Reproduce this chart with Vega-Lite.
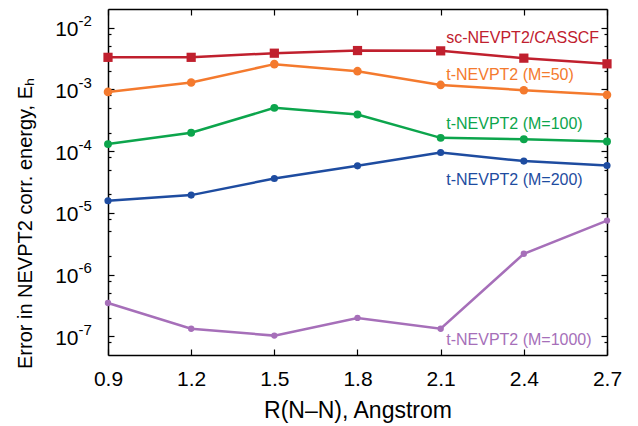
{
  "$schema": "https://vega.github.io/schema/vega-lite/v6.json",
  "width": 499,
  "height": 346,
  "autosize": {"type": "none"},
  "padding": {"left": 108, "top": 9, "right": 31, "bottom": 71},
  "background": "white",
  "config": {
    "view": {"stroke": null},
    "font": "Liberation Sans",
    "axis": {"grid": false, "domainColor": "#000", "tickColor": "#000", "labelColor": "#000", "titleColor": "#000", "labelFont": "Liberation Sans", "titleFont": "Liberation Sans", "titleFontWeight": "normal", "domainWidth": 1.5, "tickWidth": 1.2}
  },
  "datasets": {
    "main": [
      {"series": "sc-NEVPT2/CASSCF", "r": 0.9, "err": 0.0033},
      {"series": "sc-NEVPT2/CASSCF", "r": 1.2, "err": 0.0033},
      {"series": "sc-NEVPT2/CASSCF", "r": 1.5, "err": 0.00385},
      {"series": "sc-NEVPT2/CASSCF", "r": 1.8, "err": 0.00425},
      {"series": "sc-NEVPT2/CASSCF", "r": 2.1, "err": 0.0042},
      {"series": "sc-NEVPT2/CASSCF", "r": 2.4, "err": 0.0032},
      {"series": "sc-NEVPT2/CASSCF", "r": 2.7, "err": 0.00259},
      {"series": "t-NEVPT2 (M=50)", "r": 0.9, "err": 0.00091},
      {"series": "t-NEVPT2 (M=50)", "r": 1.2, "err": 0.00129},
      {"series": "t-NEVPT2 (M=50)", "r": 1.5, "err": 0.00256},
      {"series": "t-NEVPT2 (M=50)", "r": 1.8, "err": 0.00197},
      {"series": "t-NEVPT2 (M=50)", "r": 2.1, "err": 0.00118},
      {"series": "t-NEVPT2 (M=50)", "r": 2.4, "err": 0.00097},
      {"series": "t-NEVPT2 (M=50)", "r": 2.7, "err": 0.000815},
      {"series": "t-NEVPT2 (M=100)", "r": 0.9, "err": 0.00013},
      {"series": "t-NEVPT2 (M=100)", "r": 1.2, "err": 0.000198},
      {"series": "t-NEVPT2 (M=100)", "r": 1.5, "err": 0.000502},
      {"series": "t-NEVPT2 (M=100)", "r": 1.8, "err": 0.000391},
      {"series": "t-NEVPT2 (M=100)", "r": 2.1, "err": 0.000164},
      {"series": "t-NEVPT2 (M=100)", "r": 2.4, "err": 0.000156},
      {"series": "t-NEVPT2 (M=100)", "r": 2.7, "err": 0.000143},
      {"series": "t-NEVPT2 (M=200)", "r": 0.9, "err": 0.0000157},
      {"series": "t-NEVPT2 (M=200)", "r": 1.2, "err": 0.0000194},
      {"series": "t-NEVPT2 (M=200)", "r": 1.5, "err": 0.000036},
      {"series": "t-NEVPT2 (M=200)", "r": 1.8, "err": 0.0000578},
      {"series": "t-NEVPT2 (M=200)", "r": 2.1, "err": 0.000095},
      {"series": "t-NEVPT2 (M=200)", "r": 2.4, "err": 0.000069},
      {"series": "t-NEVPT2 (M=200)", "r": 2.7, "err": 0.0000585},
      {"series": "t-NEVPT2 (M=1000)", "r": 0.9, "err": 3.47e-7},
      {"series": "t-NEVPT2 (M=1000)", "r": 1.2, "err": 1.33e-7},
      {"series": "t-NEVPT2 (M=1000)", "r": 1.5, "err": 1.03e-7},
      {"series": "t-NEVPT2 (M=1000)", "r": 1.8, "err": 1.99e-7},
      {"series": "t-NEVPT2 (M=1000)", "r": 2.1, "err": 1.33e-7},
      {"series": "t-NEVPT2 (M=1000)", "r": 2.4, "err": 2.18e-6},
      {"series": "t-NEVPT2 (M=1000)", "r": 2.7, "err": 7.5e-6}
    ],
    "labels": [
      {"series": "sc-NEVPT2/CASSCF", "r": 2.12, "err": 0.0068},
      {"series": "t-NEVPT2 (M=50)", "r": 2.12, "err": 0.00172},
      {"series": "t-NEVPT2 (M=100)", "r": 2.12, "err": 0.000277},
      {"series": "t-NEVPT2 (M=200)", "r": 2.12, "err": 0.0000343},
      {"series": "t-NEVPT2 (M=1000)", "r": 2.12, "err": 8.85e-8}
    ]
  },
  "resolve": {"axis": {"x": "independent", "y": "independent"}},
  "layer": [
    {
      "data": {"name": "main"},
      "mark": {"type": "line", "strokeWidth": 2.5},
      "encoding": {
        "x": {"field": "r", "type": "quantitative", "scale": {"domain": [0.9, 2.7], "nice": false, "zero": false},
          "axis": {"orient": "bottom", "values": [0.9, 1.2, 1.5, 1.8, 2.1, 2.4, 2.7], "format": ".1f", "tickSize": -6, "labelPadding": 19, "labelFontSize": 21, "labelFlush": false, "title": "R(N\u2013N), Angstrom", "titleFontSize": 23, "titleX": 249.5, "titleY": 55, "titleBaseline": "middle", "titleAlign": "center"}},
        "y": {"field": "err", "type": "quantitative", "scale": {"type": "log", "domain": [5e-8, 0.02], "nice": false},
          "axis": {"orient": "left", "values": [1e-7, 1e-6, 1e-5, 1e-4, 1e-3, 1e-2], "tickSize": -6, "labelPadding": 36, "labelFontSize": 21, "labelFlush": false, "labelOffset": 2,
            "labelExpr": "'10'",
            "title": "Error in NEVPT2 corr. energy, E\u2095", "titleFontSize": 20, "titleX": -83, "titleY": 214, "titleAngle": -90, "titleBaseline": "middle", "titleAlign": "center"}},
        "color": {"field": "series", "type": "nominal", "legend": null,
          "scale": {"domain": ["sc-NEVPT2/CASSCF", "t-NEVPT2 (M=50)", "t-NEVPT2 (M=100)", "t-NEVPT2 (M=200)", "t-NEVPT2 (M=1000)"],
            "range": ["#c0202e", "#f47a2e", "#0ca54c", "#1e4ca0", "#a66fb9"]}}
      }
    },
    {
      "data": {"name": "main"},
      "mark": {"type": "point", "filled": true, "opacity": 1},
      "encoding": {
        "x": {"field": "r", "type": "quantitative",
          "axis": {"orient": "top", "values": [0.9, 1.2, 1.5, 1.8, 2.1, 2.4, 2.7], "tickSize": -6, "labels": false, "title": null}},
        "y": {"field": "err", "type": "quantitative",
          "axis": {"orient": "right", "values": [1e-7, 1e-6, 1e-5, 1e-4, 1e-3, 1e-2], "tickSize": -6, "labels": false, "title": null}},
        "color": {"field": "series", "type": "nominal", "legend": null},
        "shape": {"field": "series", "type": "nominal", "legend": null,
          "scale": {"domain": ["sc-NEVPT2/CASSCF", "t-NEVPT2 (M=50)", "t-NEVPT2 (M=100)", "t-NEVPT2 (M=200)", "t-NEVPT2 (M=1000)"],
            "range": ["square", "circle", "circle", "circle", "circle"]}},
        "size": {"field": "series", "type": "nominal", "legend": null,
          "scale": {"domain": ["sc-NEVPT2/CASSCF", "t-NEVPT2 (M=50)", "t-NEVPT2 (M=100)", "t-NEVPT2 (M=200)", "t-NEVPT2 (M=1000)"],
            "range": [85, 40, 40, 40, 40]}}
      }
    },
    {
      "data": {"name": "labels"},
      "mark": {"type": "text", "align": "left", "baseline": "middle", "fontSize": 16, "font": "Liberation Sans"},
      "encoding": {
        "x": {"field": "r", "type": "quantitative", "axis": null},
        "y": {"field": "err", "type": "quantitative",
          "axis": {"orient": "left", "values": [8e-8, 2e-7, 5e-7, 8e-7, 2e-6, 5e-6, 8e-6, 2e-5, 5e-5, 8e-5, 2e-4, 5e-4, 8e-4, 2e-3, 5e-3, 8e-3], "tickSize": -3, "labels": false, "domain": false, "title": null}},
        "text": {"field": "series"},
        "color": {"field": "series", "type": "nominal", "legend": null}
      }
    },
    {
      "data": {"name": "labels"},
      "mark": {"type": "point", "opacity": 0},
      "encoding": {
        "x": {"field": "r", "type": "quantitative", "axis": null},
        "y": {"field": "err", "type": "quantitative",
          "axis": {"orient": "right", "values": [8e-8, 2e-7, 5e-7, 8e-7, 2e-6, 5e-6, 8e-6, 2e-5, 5e-5, 8e-5, 2e-4, 5e-4, 8e-4, 2e-3, 5e-3, 8e-3], "tickSize": -3, "labels": false, "domain": false, "title": null}}
      }
    },
    {
      "data": {"name": "labels"},
      "mark": {"type": "point", "opacity": 0},
      "encoding": {
        "x": {"field": "r", "type": "quantitative", "axis": null},
        "y": {"field": "err", "type": "quantitative",
          "axis": {"orient": "left", "values": [1e-7, 1e-6, 1e-5, 1e-4, 1e-3, 1e-2], "ticks": false, "domain": false, "labelPadding": 30, "labelAlign": "left", "labelBaseline": "middle", "labelFontSize": 15, "labelOffset": -7, "labelFlush": false,
            "labelExpr": "'-' + format(-round(log(datum.value) / LN10), 'd')", "title": null}}
      }
    }
  ]
}
